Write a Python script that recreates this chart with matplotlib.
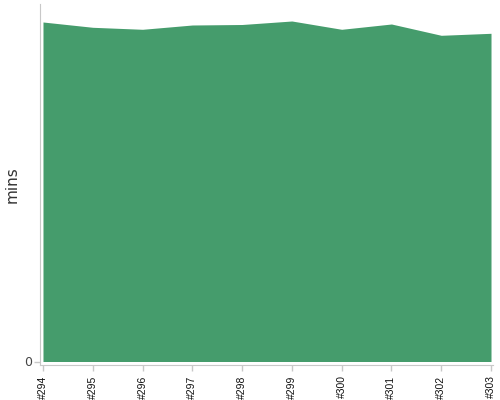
import matplotlib.pyplot as plt
import numpy as np

# Build numbers and durations (minutes)
builds = ['#294', '#295', '#296', '#297', '#298', '#299', '#300', '#301', '#302', '#303']
durations = [33.95, 33.42, 33.22, 33.65, 33.70, 34.05, 33.22, 33.75, 32.62, 32.82]

plt.rcParams['font.family'] = ['DejaVu Sans']

fig = plt.figure(figsize=(5, 4), dpi=100)
ax = fig.add_axes([0.08, 0.0875, 0.906, 0.9025])

x = np.arange(len(builds))
ax.fill_between(x, 0, durations, color='#459c6c', linewidth=0)

ax.set_xlim(-0.06, len(builds) - 1 + 0.04)
ax.set_ylim(-0.35, 35.75)

ax.set_xticks(x)
ax.set_xticklabels(builds, rotation=90, fontsize=7.5, color='#111111',
                   family=['Liberation Sans', 'DejaVu Sans'])
ax.set_yticks([0])
ax.set_yticklabels(['0'], fontsize=9, color='#444444')
ax.set_ylabel('mins', fontsize=11, color='#333333')
ax.yaxis.set_label_coords(-0.046, 0.5)

for side in ['top', 'right']:
    ax.spines[side].set_visible(False)
for side in ['left', 'bottom']:
    ax.spines[side].set_color('#c8c8c8')
ax.tick_params(axis='both', colors='#c8c8c8', length=4, width=1)
ax.tick_params(axis='y', pad=2)
for lbl in ax.get_xticklabels():
    lbl.set_color('#111111')
for lbl in ax.get_yticklabels():
    lbl.set_color('#444444')

fig.savefig('out.png', dpi=100, facecolor='white')
